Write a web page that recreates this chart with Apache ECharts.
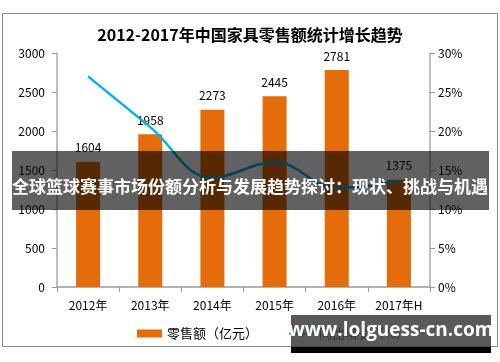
<!DOCTYPE html>
<html><head><meta charset="utf-8">
<script src="https://cdn.jsdelivr.net/npm/echarts@6/dist/echarts.min.js"></script>
<style>html,body{margin:0;padding:0;background:#fff}#c{width:500px;height:362px}</style>
</head><body><div id="c"></div>
<script>
const categories = ['2012年','2013年','2014年','2015年','2016年','2017年H'];
const salesValues = [1604, 1958, 2273, 2445, 2781, 1375];
const growthValues = [27.0, 20.5, 14.0, 16.0, 12.7, 13.6];
const leftTicks = {min: 0, max: 3000, interval: 500};
const rightTicks = {min: 0, max: 30, interval: 5};

const chart = echarts.init(document.getElementById('c'), null, {renderer: 'canvas'});
const F = '"Noto Sans CJK SC", "Liberation Sans", sans-serif';
chart.setOption({
  animation: false,
  backgroundColor: '#fff',
  title: {
    text: '2012-2017年中国家具零售额统计增长趋势',
    left: 'center', top: 22,
    textStyle: {fontFamily: F, fontSize: 16, fontWeight: 'bold', color: '#000'}
  },
  legend: {
    left: 132, top: 322, itemGap: 30, itemWidth: 25, itemHeight: 8,
    textStyle: {fontFamily: F, fontSize: 13, color: '#000'},
    data: [{name: '零售额（亿元）', icon: 'rect'}, {name: '同比增长（%）'}]
  },
  grid: {left: 57, right: 70, top: 53, bottom: 75},
  xAxis: {
    type: 'category', data: categories,
    axisLine: {lineStyle: {color: '#999', width: 1.5}},
    axisTick: {show: true, alignWithLabel: false, length: 5, lineStyle: {color: '#999'}},
    axisLabel: {fontFamily: F, fontSize: 12, color: '#000', margin: 12, interval: 0}
  },
  yAxis: [{
    type: 'value', min: leftTicks.min, max: leftTicks.max, interval: leftTicks.interval,
    axisLine: {show: true, lineStyle: {color: '#aaa', width: 1.5}},
    axisTick: {show: true, length: 5, lineStyle: {color: '#999'}},
    splitLine: {show: false},
    axisLabel: {fontFamily: F, fontSize: 12, color: '#000', margin: 12, formatter: v => String(v)}
  }, {
    type: 'value', min: rightTicks.min, max: rightTicks.max, interval: rightTicks.interval,
    position: 'right',
    axisLine: {show: true, lineStyle: {color: '#aaa', width: 1.5}},
    axisTick: {show: true, length: 5, lineStyle: {color: '#999'}},
    splitLine: {show: false},
    axisLabel: {fontFamily: F, fontSize: 12, color: '#000', margin: 8, formatter: '{value}%'}
  }],
  series: [{
    name: '零售额（亿元）', type: 'bar', data: salesValues, barWidth: 24,
    itemStyle: {color: '#E46C0A'},
    label: {show: true, position: 'top', distance: 8, fontFamily: F, fontSize: 12, color: '#000'}
  }, {
    name: '同比增长（%）', type: 'line', yAxisIndex: 1, data: growthValues,
    smooth: 0.4, symbol: 'none',
    lineStyle: {color: '#00B0F0', width: 2.5}, itemStyle: {color: '#00B0F0'}
  }],
  graphic: [
    {type: 'rect', z: 50, shape: {x: 2.5, y: 13.5, width: 495, height: 333}, style: {fill: 'none', stroke: '#888', lineWidth: 1}},
    {type: 'rect', z: 100, shape: {x: 12, y: 151, width: 477, height: 59}, style: {fill: 'rgba(0,0,0,0.62)'}},
    {type: 'text', z: 101, x: 250, y: 187, style: {text: '全球篮球赛事市场份额分析与发展趋势探讨：现状、挑战与机遇', fill: '#fff', font: 'bold 17px "Noto Sans CJK SC"', textAlign: 'center', textVerticalAlign: 'middle'}},
    {type: 'rect', z: 100, shape: {x: 291, y: 315, width: 200, height: 32}, style: {fill: 'rgba(60,60,60,0.85)'}},
    {type: 'rect', z: 100, shape: {x: 291, y: 347, width: 200, height: 6}, style: {fill: '#000'}},
    {type: 'text', z: 101, x: 391, y: 331, style: {text: 'www.lolguess-cn.com', fill: '#fff', font: 'bold 19px "Open Sans", "DejaVu Sans", sans-serif', textAlign: 'center', textVerticalAlign: 'middle'}}
  ]
});
</script></body></html>
